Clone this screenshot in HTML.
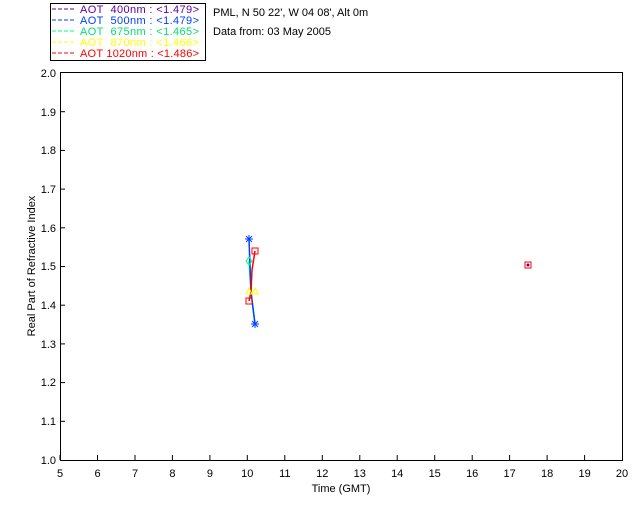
<!DOCTYPE html><html><head><style>body{margin:0;background:#fff}svg text{font-family:"Liberation Sans",sans-serif;font-size:11px;white-space:pre}</style></head><body>
<svg width="640" height="512" xmlns="http://www.w3.org/2000/svg">
<rect width="640" height="512" fill="#fff"/>
<rect x="50.5" y="3.5" width="155" height="57" fill="none" stroke="#000"/>
<g font-size="11">
<line x1="52" y1="9" x2="74" y2="9" stroke="#6000a0" stroke-dasharray="4,2"/><text x="80" y="13" fill="#6000a0" textLength="119" lengthAdjust="spacing">AOT  400nm : &lt;1.479&gt;</text>
<line x1="52" y1="20" x2="74" y2="20" stroke="#0040ff" stroke-dasharray="4,2"/><text x="80" y="24" fill="#0040ff" textLength="119" lengthAdjust="spacing">AOT  500nm : &lt;1.479&gt;</text>
<line x1="52" y1="31" x2="74" y2="31" stroke="#00ff80" stroke-dasharray="4,2"/><text x="80" y="35" fill="#00e070" textLength="119" lengthAdjust="spacing">AOT  675nm : &lt;1.465&gt;</text>
<line x1="52" y1="42" x2="74" y2="42" stroke="#ffff00" stroke-dasharray="4,2"/><text x="80" y="46" fill="#ffff00" textLength="119" lengthAdjust="spacing">AOT  870nm : &lt;1.466&gt;</text>
<line x1="52" y1="53" x2="74" y2="53" stroke="#ff0000" stroke-dasharray="4,2"/><text x="80" y="57" fill="#ff0000" textLength="119" lengthAdjust="spacing">AOT 1020nm : &lt;1.486&gt;</text>
</g>
<text x="213" y="16">PML, N 50 22', W 04 08', Alt 0m</text>
<text x="213" y="35">Data from: 03 May 2005</text>
<rect x="60.5" y="72.5" width="562" height="388" fill="none" stroke="#000"/>
<g stroke="#000">
<line x1="60" y1="460" x2="60" y2="455"/><line x1="97.5" y1="460" x2="97.5" y2="455"/><line x1="135" y1="460" x2="135" y2="455"/><line x1="172.4" y1="460" x2="172.4" y2="455"/><line x1="209.9" y1="460" x2="209.9" y2="455"/><line x1="247.3" y1="460" x2="247.3" y2="455"/><line x1="284.8" y1="460" x2="284.8" y2="455"/><line x1="322.3" y1="460" x2="322.3" y2="455"/><line x1="359.8" y1="460" x2="359.8" y2="455"/><line x1="397.2" y1="460" x2="397.2" y2="455"/><line x1="434.7" y1="460" x2="434.7" y2="455"/><line x1="472.2" y1="460" x2="472.2" y2="455"/><line x1="509.6" y1="460" x2="509.6" y2="455"/><line x1="547.1" y1="460" x2="547.1" y2="455"/><line x1="584.6" y1="460" x2="584.6" y2="455"/>
<line x1="60" y1="421.3" x2="65" y2="421.3"/><line x1="60" y1="382.6" x2="65" y2="382.6"/><line x1="60" y1="343.9" x2="65" y2="343.9"/><line x1="60" y1="305.2" x2="65" y2="305.2"/><line x1="60" y1="266.5" x2="65" y2="266.5"/><line x1="60" y1="227.8" x2="65" y2="227.8"/><line x1="60" y1="189.1" x2="65" y2="189.1"/><line x1="60" y1="150.4" x2="65" y2="150.4"/><line x1="60" y1="111.7" x2="65" y2="111.7"/>
</g>
<g text-anchor="middle">
<text x="60" y="477">5</text><text x="97.5" y="477">6</text><text x="135" y="477">7</text><text x="172.4" y="477">8</text><text x="209.9" y="477">9</text><text x="247.3" y="477">10</text><text x="284.8" y="477">11</text><text x="322.3" y="477">12</text><text x="359.8" y="477">13</text><text x="397.2" y="477">14</text><text x="434.7" y="477">15</text><text x="472.2" y="477">16</text><text x="509.6" y="477">17</text><text x="547.1" y="477">18</text><text x="584.6" y="477">19</text><text x="622" y="477">20</text>
<text x="341" y="492">Time (GMT)</text>
</g>
<g text-anchor="end">
<text x="56" y="464">1.0</text><text x="56" y="425">1.1</text><text x="56" y="386">1.2</text><text x="56" y="348">1.3</text><text x="56" y="309">1.4</text><text x="56" y="270">1.5</text><text x="56" y="232">1.6</text><text x="56" y="193">1.7</text><text x="56" y="154">1.8</text><text x="56" y="116">1.9</text><text x="56" y="77">2.0</text>
</g>
<text transform="translate(35,266) rotate(-90)" text-anchor="middle">Real Part of Refractive Index</text>
<polyline points="249,261 251,292 255,324" fill="none" stroke="#00ff80" stroke-width="1.5"/>
<polyline points="249,239 251,292 255,324" fill="none" stroke="#0040ff" stroke-width="1.5"/>
<polyline points="255,251 252,270 251,292 249,301" fill="none" stroke="#ff0000" stroke-width="1.5"/>
<g stroke="#0040ff"><line x1="245" y1="239" x2="253" y2="239"/><line x1="249" y1="235" x2="249" y2="243"/><line x1="246" y1="236" x2="252" y2="242"/><line x1="252" y1="236" x2="246" y2="242"/>
<line x1="251" y1="324" x2="259" y2="324"/><line x1="255" y1="320" x2="255" y2="328"/><line x1="252" y1="321" x2="258" y2="327"/><line x1="258" y1="321" x2="252" y2="327"/></g>
<polygon points="249,257 252,261 249,265 246,261" fill="none" stroke="#00ff80"/>
<g fill="none" stroke="#ff0000"><rect x="252" y="248" width="6" height="6"/><rect x="246" y="298" width="6" height="6"/><rect x="525" y="262" width="6" height="6"/></g>
<g fill="none" stroke="#ffff00"><polygon points="249,288 252,294 246,294"/><polygon points="255,288 258,294 252,294"/></g>
<circle cx="528" cy="265" r="1.5" fill="#6000a0"/>
</svg></body></html>
